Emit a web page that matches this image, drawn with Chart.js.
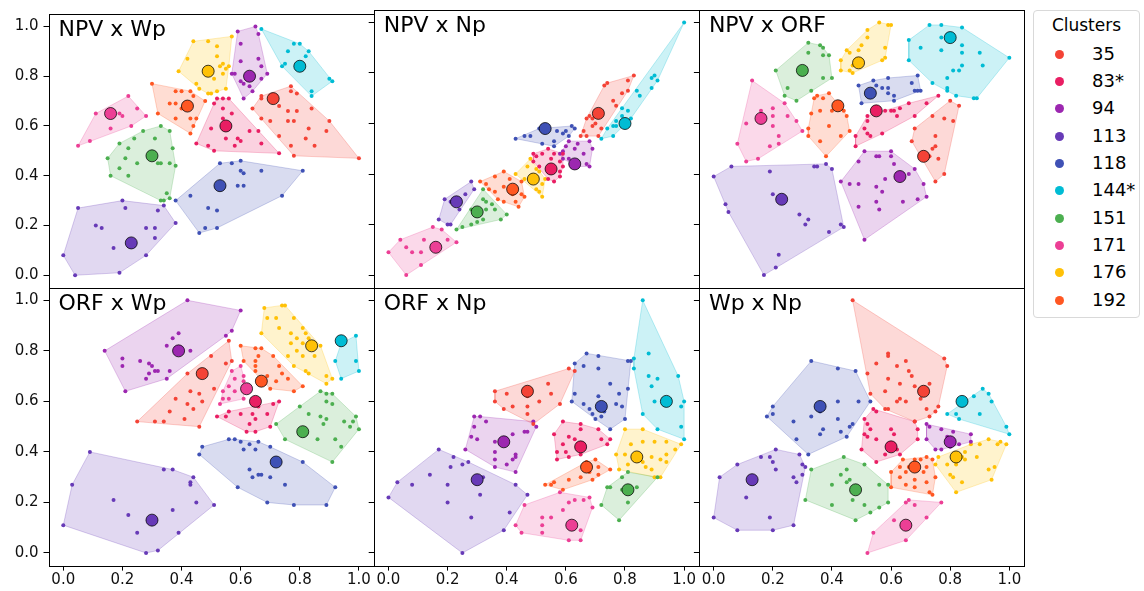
<!DOCTYPE html>
<html>
<head>
<meta charset="utf-8">
<script src="https://cdn.jsdelivr.net/npm/chart.js@4.4.1/dist/chart.umd.min.js"></script>
<style>
  body { margin: 0; background: #fff; width: 1144px; height: 591px; overflow: hidden; font-family: 'DejaVu Sans', sans-serif; }
  canvas { position: absolute; left: 0; top: 0; }
  #legend { position: absolute; left: 1033px; top: 10px; width: 107px; height: 308px; border: 1px solid #d9d9d9; border-radius: 4px; box-sizing: border-box; background: #fff; }
  #legend .ttl { position: absolute; left: 0; width: 105px; top: 4px; text-align: center; font-size: 17px; line-height: 20px; color: #000; }
  #legend .dot { position: absolute; left: 21px; width: 9px; height: 9px; border-radius: 50%; }
  #legend .lab { position: absolute; left: 58px; font-size: 18px; line-height: 21px; color: #000; }
</style>
</head>
<body>
<div id="legend"></div>
<script>
const clusters = ['35', '83*', '94', '113', '118', '144*', '151', '171', '176', '192'];
const colors = ['#f44336', '#e91e63', '#9c27b0', '#673ab7', '#3f51b5', '#00bcd4', '#4caf50', '#ec3f95', '#ffc107', '#ff5722'];

// cluster centres for each variable (the big markers)
const npvMean = [0.71, 0.55, 0.63, 0.23, 0.53, 0.80, 0.30, 0.16, 0.49, 0.42];
const wpMean  = [0.71, 0.60, 0.80, 0.13, 0.36, 0.84, 0.48, 0.65, 0.82, 0.68];
const npMean  = [0.64, 0.42, 0.44, 0.29, 0.58, 0.60, 0.25, 0.11, 0.38, 0.34];
const orfMean = [0.47, 0.65, 0.39, 0.30, 0.72, 0.94, 0.81, 0.62, 0.84, 0.67];

const tickValues = [0, 0.2, 0.4, 0.6, 0.8, 1.0];

// samples of each cluster as x,y pairs, same order as clusters
const npvWp = [
  [0.67,0.71, 0.67,0.72, 0.70,0.71, 0.77,0.76, 0.77,0.74, 0.79,0.73, 0.73,0.68, 0.76,0.66, 0.79,0.66, 0.84,0.67, 0.90,0.62, 0.78,0.62, 0.83,0.59, 0.89,0.58, 0.67,0.63, 0.70,0.62, 0.76,0.62, 0.73,0.56, 0.82,0.55, 0.85,0.52, 0.77,0.52, 0.78,0.48, 1.00,0.47, 0.64,0.67],
  [0.52,0.71, 0.54,0.71, 0.56,0.71, 0.51,0.69, 0.54,0.67, 0.57,0.65, 0.54,0.63, 0.50,0.59, 0.45,0.53, 0.55,0.55, 0.60,0.54, 0.58,0.52, 0.63,0.58, 0.66,0.58, 0.67,0.53, 0.73,0.49, 0.51,0.50, 0.49,0.52, 0.59,0.55],
  [0.59,0.98, 0.65,1.00, 0.66,0.97, 0.60,0.93, 0.60,0.86, 0.66,0.87, 0.58,0.81, 0.57,0.81, 0.60,0.78, 0.61,0.77, 0.63,0.76, 0.64,0.74, 0.61,0.71, 0.67,0.79, 0.69,0.81, 0.67,0.84, 0.64,0.80],
  [0.05,0.27, 0.20,0.30, 0.21,0.27, 0.34,0.28, 0.32,0.26, 0.38,0.21, 0.11,0.20, 0.13,0.19, 0.28,0.19, 0.31,0.19, 0.31,0.15, 0.17,0.11, 0.28,0.08, 0.19,0.01, 0.04,0.00, 0.00,0.08],
  [0.53,0.45, 0.57,0.45, 0.60,0.46, 0.60,0.42, 0.61,0.41, 0.67,0.42, 0.81,0.42, 0.59,0.36, 0.61,0.36, 0.74,0.32, 0.43,0.32, 0.38,0.30, 0.49,0.27, 0.52,0.26, 0.52,0.19, 0.48,0.19, 0.46,0.17],
  [0.67,0.99, 0.78,0.93, 0.80,0.93, 0.76,0.90, 0.83,0.90, 0.82,0.88, 0.75,0.85, 0.74,0.84, 0.90,0.79, 0.91,0.78, 0.84,0.74, 0.84,0.72],
  [0.27,0.58, 0.33,0.60, 0.36,0.58, 0.31,0.55, 0.24,0.55, 0.19,0.53, 0.22,0.51, 0.37,0.51, 0.15,0.47, 0.21,0.47, 0.25,0.45, 0.32,0.45, 0.33,0.45, 0.36,0.45, 0.38,0.44, 0.19,0.43, 0.16,0.40, 0.22,0.40, 0.35,0.33, 0.36,0.31, 0.34,0.30, 0.33,0.30],
  [0.22,0.72, 0.25,0.67, 0.28,0.64, 0.19,0.65, 0.20,0.64, 0.23,0.60, 0.16,0.59, 0.09,0.54, 0.05,0.52, 0.11,0.65],
  [0.44,0.94, 0.49,0.94, 0.57,0.96, 0.52,0.92, 0.52,0.88, 0.54,0.85, 0.53,0.84, 0.55,0.83, 0.54,0.81, 0.56,0.84, 0.55,0.75, 0.52,0.74, 0.49,0.73, 0.50,0.73, 0.46,0.75, 0.45,0.77, 0.39,0.82, 0.42,0.87, 0.51,0.79],
  [0.30,0.77, 0.38,0.74, 0.40,0.74, 0.43,0.74, 0.44,0.72, 0.48,0.70, 0.36,0.69, 0.38,0.69, 0.41,0.69, 0.32,0.65, 0.38,0.63, 0.43,0.63, 0.45,0.63, 0.44,0.60, 0.43,0.57, 0.40,0.67]
];

const npvNp = [
  [0.83,0.79, 0.81,0.77, 0.73,0.75, 0.74,0.76, 0.81,0.73, 0.79,0.72, 0.76,0.69, 0.77,0.67, 0.68,0.63, 0.67,0.62, 0.70,0.60, 0.69,0.59, 0.72,0.58, 0.66,0.57, 0.71,0.55, 0.67,0.55, 0.65,0.55, 0.69,0.62],
  [0.49,0.48, 0.50,0.47, 0.52,0.48, 0.54,0.50, 0.56,0.48, 0.59,0.48, 0.55,0.46, 0.58,0.45, 0.59,0.43, 0.58,0.41, 0.58,0.39, 0.56,0.37, 0.54,0.38, 0.51,0.43, 0.49,0.45],
  [0.61,0.53, 0.64,0.52, 0.68,0.53, 0.69,0.50, 0.63,0.50, 0.60,0.51, 0.59,0.49, 0.58,0.48, 0.66,0.48, 0.61,0.46, 0.67,0.44, 0.68,0.43, 0.64,0.43, 0.59,0.46],
  [0.28,0.37, 0.29,0.34, 0.26,0.32, 0.24,0.30, 0.21,0.29, 0.23,0.28, 0.19,0.30, 0.24,0.26, 0.17,0.22, 0.20,0.20, 0.21,0.20],
  [0.43,0.54, 0.46,0.55, 0.48,0.55, 0.51,0.58, 0.59,0.56, 0.60,0.57, 0.62,0.59, 0.63,0.58, 0.61,0.55, 0.56,0.53, 0.56,0.51, 0.52,0.52, 0.57,0.57],
  [1.00,1.00, 0.90,0.79, 0.89,0.78, 0.91,0.77, 0.89,0.74, 0.84,0.73, 0.85,0.71, 0.79,0.66, 0.81,0.65, 0.79,0.63, 0.77,0.61, 0.76,0.59, 0.74,0.58, 0.77,0.59, 0.76,0.55, 0.72,0.54, 0.82,0.62],
  [0.32,0.34, 0.32,0.30, 0.33,0.29, 0.35,0.28, 0.36,0.26, 0.33,0.26, 0.30,0.25, 0.28,0.26, 0.40,0.24, 0.38,0.22, 0.32,0.22, 0.30,0.21, 0.28,0.20, 0.25,0.19, 0.23,0.18, 0.30,0.24],
  [0.15,0.19, 0.18,0.18, 0.20,0.14, 0.23,0.13, 0.12,0.14, 0.04,0.14, 0.06,0.11, 0.08,0.09, 0.11,0.09, 0.00,0.09, 0.16,0.12, 0.17,0.12, 0.11,0.04, 0.06,0.00],
  [0.48,0.46, 0.47,0.43, 0.43,0.40, 0.50,0.42, 0.51,0.41, 0.53,0.38, 0.52,0.36, 0.50,0.34, 0.51,0.33, 0.52,0.31, 0.46,0.38],
  [0.31,0.37, 0.36,0.39, 0.39,0.41, 0.41,0.38, 0.45,0.37, 0.45,0.32, 0.46,0.31, 0.43,0.29, 0.44,0.27, 0.39,0.29, 0.37,0.30, 0.36,0.33, 0.34,0.34, 0.39,0.35, 0.42,0.32, 0.33,0.36]
];

const npvOrf = [
  [0.80,0.69, 0.83,0.67, 0.74,0.63, 0.78,0.62, 0.81,0.61, 0.68,0.58, 0.75,0.55, 0.67,0.53, 0.75,0.51, 0.74,0.50, 0.73,0.47, 0.76,0.46, 0.78,0.40, 0.75,0.37],
  [0.76,0.71, 0.72,0.68, 0.66,0.68, 0.63,0.66, 0.60,0.65, 0.61,0.65, 0.62,0.63, 0.58,0.65, 0.52,0.63, 0.52,0.61, 0.68,0.63, 0.51,0.58, 0.52,0.56, 0.53,0.55, 0.48,0.55, 0.57,0.56, 0.48,0.51],
  [0.51,0.49, 0.55,0.47, 0.56,0.47, 0.60,0.49, 0.60,0.47, 0.49,0.45, 0.61,0.44, 0.68,0.42, 0.66,0.40, 0.63,0.38, 0.58,0.38, 0.55,0.35, 0.57,0.33, 0.43,0.37, 0.46,0.36, 0.49,0.36, 0.71,0.36, 0.72,0.31, 0.69,0.30, 0.64,0.29, 0.55,0.29, 0.56,0.26, 0.49,0.27, 0.51,0.14],
  [0.06,0.43, 0.34,0.43, 0.38,0.44, 0.35,0.43, 0.40,0.42, 0.19,0.41, 0.00,0.39, 0.20,0.32, 0.04,0.28, 0.05,0.25, 0.29,0.24, 0.32,0.22, 0.31,0.20, 0.43,0.20, 0.44,0.19, 0.39,0.17, 0.22,0.08, 0.21,0.03, 0.17,0.00],
  [0.49,0.75, 0.54,0.77, 0.59,0.78, 0.69,0.79, 0.55,0.75, 0.57,0.74, 0.59,0.74, 0.59,0.72, 0.67,0.76, 0.68,0.73, 0.70,0.73, 0.69,0.73, 0.61,0.71, 0.61,0.69, 0.50,0.68, 0.52,0.72],
  [0.73,0.99, 0.77,0.99, 0.84,0.98, 0.66,0.93, 0.70,0.90, 0.77,0.89, 0.77,0.94, 0.84,0.91, 0.84,0.88, 0.90,0.88, 1.00,0.86, 0.66,0.85, 0.91,0.83, 0.84,0.83, 0.83,0.81, 0.81,0.81, 0.79,0.78, 0.74,0.76, 0.79,0.74, 0.79,0.73, 0.82,0.71, 0.89,0.70, 0.88,0.70],
  [0.32,0.92, 0.36,0.91, 0.37,0.90, 0.32,0.88, 0.39,0.87, 0.37,0.87, 0.21,0.81, 0.37,0.78, 0.40,0.78, 0.25,0.74, 0.33,0.73, 0.24,0.71, 0.28,0.69],
  [0.13,0.77, 0.24,0.68, 0.20,0.66, 0.16,0.65, 0.20,0.63, 0.25,0.63, 0.28,0.61, 0.11,0.60, 0.20,0.59, 0.30,0.57, 0.22,0.55, 0.08,0.52, 0.19,0.51, 0.22,0.52, 0.15,0.46, 0.11,0.45],
  [0.56,1.00, 0.59,0.99, 0.60,0.99, 0.52,0.97, 0.52,0.94, 0.50,0.91, 0.49,0.89, 0.45,0.89, 0.46,0.88, 0.58,0.90, 0.58,0.86, 0.57,0.85, 0.43,0.85, 0.47,0.83, 0.46,0.81, 0.43,0.81, 0.47,0.80],
  [0.35,0.71, 0.39,0.72, 0.37,0.70, 0.34,0.70, 0.36,0.65, 0.33,0.64, 0.40,0.65, 0.44,0.65, 0.45,0.63, 0.39,0.59, 0.32,0.58, 0.46,0.57, 0.43,0.55, 0.36,0.53, 0.32,0.55, 0.38,0.47]
];

const orfWp = [
  [0.56,0.84, 0.50,0.78, 0.55,0.75, 0.57,0.76, 0.42,0.71, 0.48,0.71, 0.51,0.65, 0.43,0.64, 0.46,0.63, 0.38,0.61, 0.47,0.60, 0.42,0.59, 0.44,0.57, 0.36,0.56, 0.25,0.52, 0.31,0.52, 0.34,0.52, 0.41,0.53, 0.46,0.50],
  [0.73,0.60, 0.71,0.59, 0.69,0.55, 0.66,0.58, 0.56,0.56, 0.52,0.54, 0.55,0.54, 0.60,0.55, 0.63,0.51, 0.64,0.55, 0.65,0.53, 0.70,0.50, 0.65,0.48, 0.62,0.48],
  [0.42,1.00, 0.60,0.96, 0.57,0.88, 0.55,0.86, 0.39,0.87, 0.37,0.85, 0.35,0.82, 0.40,0.80, 0.43,0.80, 0.14,0.80, 0.26,0.76, 0.20,0.77, 0.29,0.75, 0.30,0.74, 0.20,0.74, 0.32,0.72, 0.31,0.72, 0.29,0.71, 0.28,0.69, 0.36,0.72, 0.35,0.69, 0.21,0.64],
  [0.09,0.40, 0.34,0.33, 0.37,0.33, 0.44,0.30, 0.43,0.28, 0.43,0.27, 0.03,0.27, 0.17,0.21, 0.45,0.20, 0.51,0.19, 0.22,0.15, 0.37,0.17, 0.00,0.11, 0.25,0.08, 0.39,0.08, 0.32,0.01, 0.28,0.00],
  [0.56,0.45, 0.58,0.45, 0.60,0.44, 0.63,0.43, 0.66,0.44, 0.61,0.41, 0.65,0.41, 0.70,0.42, 0.47,0.42, 0.46,0.39, 0.81,0.36, 0.63,0.33, 0.66,0.31, 0.64,0.30, 0.67,0.31, 0.70,0.30, 0.75,0.27, 0.59,0.26, 0.92,0.26, 0.69,0.20, 0.78,0.19, 0.89,0.19],
  [0.99,0.86, 0.94,0.83, 0.92,0.76, 0.99,0.76, 1.00,0.72, 0.94,0.69],
  [0.87,0.64, 0.89,0.63, 0.91,0.63, 0.89,0.60, 0.91,0.59, 0.80,0.58, 0.83,0.55, 0.87,0.54, 0.89,0.53, 0.99,0.54, 0.95,0.52, 0.98,0.52, 0.97,0.50, 1.00,0.49, 0.72,0.51, 0.75,0.45, 0.82,0.47, 0.86,0.45, 0.92,0.45, 0.94,0.42, 0.91,0.36, 0.88,0.51],
  [0.60,0.74, 0.57,0.72, 0.61,0.70, 0.58,0.69, 0.56,0.66, 0.61,0.68, 0.54,0.64, 0.58,0.64, 0.54,0.61, 0.61,0.61, 0.56,0.61, 0.53,0.59],
  [0.68,0.97, 0.74,0.98, 0.75,0.98, 0.69,0.93, 0.72,0.93, 0.73,0.89, 0.78,0.93, 0.77,0.87, 0.81,0.89, 0.82,0.87, 0.83,0.85, 0.79,0.85, 0.77,0.83, 0.81,0.83, 0.83,0.82, 0.87,0.82, 0.79,0.80, 0.81,0.78, 0.85,0.78, 0.76,0.78, 0.78,0.74, 0.82,0.72, 0.83,0.71, 0.89,0.70, 0.91,0.69, 0.89,0.67, 0.67,0.87],
  [0.60,0.82, 0.65,0.81, 0.67,0.81, 0.66,0.78, 0.65,0.76, 0.61,0.76, 0.71,0.78, 0.65,0.74, 0.65,0.72, 0.73,0.74, 0.74,0.71, 0.69,0.70, 0.76,0.69, 0.72,0.68, 0.81,0.66, 0.78,0.64, 0.70,0.65]
];

const orfNp = [
  [0.61,0.73, 0.63,0.72, 0.54,0.67, 0.40,0.63, 0.36,0.60, 0.47,0.62, 0.51,0.60, 0.55,0.63, 0.58,0.59, 0.39,0.57, 0.42,0.58, 0.47,0.58, 0.47,0.55, 0.49,0.51, 0.36,0.64],
  [0.59,0.52, 0.65,0.51, 0.65,0.49, 0.71,0.49, 0.56,0.47, 0.61,0.46, 0.63,0.45, 0.72,0.45, 0.75,0.45, 0.74,0.43, 0.59,0.43, 0.57,0.40, 0.60,0.40, 0.65,0.39, 0.61,0.38, 0.57,0.37, 0.66,0.42],
  [0.29,0.54, 0.31,0.54, 0.33,0.52, 0.49,0.52, 0.50,0.50, 0.46,0.48, 0.47,0.48, 0.42,0.47, 0.29,0.50, 0.30,0.45, 0.28,0.46, 0.36,0.44, 0.26,0.41, 0.36,0.40, 0.43,0.39, 0.43,0.38, 0.42,0.37, 0.36,0.37, 0.40,0.35, 0.36,0.34, 0.43,0.32],
  [0.17,0.41, 0.22,0.38, 0.21,0.34, 0.25,0.35, 0.27,0.36, 0.14,0.31, 0.20,0.27, 0.32,0.30, 0.03,0.28, 0.08,0.27, 0.43,0.27, 0.47,0.23, 0.31,0.23, 0.00,0.22, 0.20,0.20, 0.28,0.14, 0.41,0.16, 0.39,0.09, 0.25,0.00],
  [0.67,0.79, 0.71,0.78, 0.81,0.76, 0.82,0.76, 0.63,0.75, 0.66,0.74, 0.71,0.73, 0.75,0.67, 0.81,0.65, 0.63,0.63, 0.71,0.62, 0.78,0.63, 0.62,0.60, 0.66,0.59, 0.68,0.57, 0.73,0.57, 0.73,0.56, 0.77,0.59, 0.79,0.58, 0.69,0.55, 0.72,0.54, 0.70,0.53, 0.80,0.53, 0.75,0.49],
  [0.86,1.00, 0.83,0.77, 0.83,0.73, 0.88,0.79, 0.88,0.70, 0.98,0.70, 0.91,0.69, 0.89,0.66, 0.90,0.60, 1.00,0.60, 0.99,0.58, 0.86,0.55, 0.91,0.49, 0.99,0.50, 1.00,0.45],
  [0.81,0.32, 0.91,0.30, 0.79,0.30, 0.74,0.26, 0.75,0.26, 0.79,0.25, 0.81,0.20, 0.72,0.19, 0.78,0.13, 0.84,0.26],
  [0.58,0.24, 0.61,0.20, 0.63,0.21, 0.66,0.21, 0.68,0.22, 0.69,0.18, 0.59,0.17, 0.46,0.19, 0.55,0.14, 0.52,0.14, 0.52,0.11, 0.43,0.11, 0.45,0.08, 0.52,0.08, 0.65,0.09, 0.65,0.05, 0.61,0.05],
  [0.80,0.49, 0.86,0.49, 0.82,0.43, 0.86,0.44, 0.90,0.44, 0.94,0.44, 0.97,0.41, 0.99,0.43, 0.77,0.39, 0.80,0.39, 0.84,0.38, 0.89,0.38, 0.86,0.36, 0.92,0.37, 0.94,0.39, 0.78,0.33, 0.81,0.35, 0.87,0.34, 0.89,0.33, 0.90,0.30, 0.92,0.30, 0.94,0.36],
  [0.70,0.37, 0.67,0.36, 0.71,0.34, 0.75,0.33, 0.66,0.34, 0.68,0.32, 0.65,0.30, 0.71,0.31, 0.69,0.29, 0.61,0.29, 0.59,0.25, 0.55,0.27, 0.53,0.27, 0.56,0.28]
];

const wpNp = [
  [0.47,1.00, 0.59,0.79, 0.59,0.78, 0.55,0.75, 0.62,0.74, 0.65,0.76, 0.78,0.77, 0.79,0.74, 0.52,0.71, 0.66,0.72, 0.67,0.70, 0.59,0.69, 0.63,0.67, 0.68,0.66, 0.73,0.67, 0.58,0.64, 0.53,0.63, 0.70,0.61, 0.76,0.58, 0.62,0.60, 0.63,0.61, 0.65,0.60, 0.58,0.57, 0.59,0.57, 0.72,0.57, 0.75,0.56, 0.73,0.54, 0.68,0.52],
  [0.54,0.57, 0.55,0.56, 0.68,0.52, 0.51,0.53, 0.52,0.51, 0.53,0.49, 0.60,0.49, 0.69,0.49, 0.51,0.47, 0.52,0.46, 0.55,0.45, 0.61,0.47, 0.69,0.45, 0.62,0.41, 0.63,0.39, 0.50,0.41, 0.55,0.36, 0.58,0.39],
  [0.72,0.51, 0.73,0.50, 0.77,0.49, 0.81,0.48, 0.87,0.47, 0.87,0.44, 0.79,0.46, 0.81,0.44, 0.83,0.43, 0.72,0.45, 0.75,0.41, 0.77,0.41, 0.80,0.42],
  [0.21,0.41, 0.16,0.38, 0.19,0.38, 0.20,0.36, 0.29,0.39, 0.08,0.35, 0.30,0.35, 0.31,0.34, 0.21,0.33, 0.02,0.30, 0.30,0.31, 0.27,0.30, 0.28,0.28, 0.11,0.22, 0.00,0.14, 0.19,0.14, 0.27,0.11, 0.08,0.09, 0.20,0.09],
  [0.33,0.76, 0.42,0.73, 0.48,0.72, 0.53,0.60, 0.49,0.60, 0.42,0.60, 0.33,0.54, 0.36,0.56, 0.37,0.57, 0.20,0.58, 0.20,0.55, 0.18,0.54, 0.42,0.53, 0.27,0.52, 0.47,0.51, 0.46,0.50, 0.43,0.48, 0.37,0.49, 0.36,0.47, 0.45,0.46, 0.28,0.45, 0.32,0.39],
  [0.91,0.65, 0.93,0.63, 0.88,0.62, 0.94,0.60, 0.79,0.55, 0.82,0.55, 0.90,0.55, 0.83,0.53, 0.99,0.50, 1.00,0.47],
  [0.44,0.38, 0.51,0.35, 0.33,0.33, 0.45,0.33, 0.43,0.31, 0.46,0.29, 0.45,0.28, 0.40,0.27, 0.56,0.27, 0.59,0.27, 0.47,0.25, 0.49,0.25, 0.31,0.21, 0.40,0.19, 0.47,0.21, 0.51,0.19, 0.59,0.20, 0.56,0.18, 0.53,0.16, 0.48,0.13],
  [0.66,0.21, 0.65,0.20, 0.68,0.19, 0.77,0.20, 0.72,0.14, 0.61,0.13, 0.66,0.11, 0.54,0.08, 0.65,0.05, 0.52,0.00],
  [0.93,0.45, 0.97,0.44, 0.99,0.43, 0.96,0.43, 0.90,0.43, 0.87,0.43, 0.85,0.40, 0.84,0.38, 0.76,0.38, 0.75,0.35, 0.89,0.38, 0.85,0.37, 0.79,0.35, 0.82,0.35, 0.95,0.34, 0.93,0.33, 0.80,0.31, 0.81,0.30, 0.84,0.28, 0.94,0.29, 0.82,0.24],
  [0.72,0.38, 0.74,0.37, 0.64,0.37, 0.68,0.37, 0.70,0.37, 0.63,0.34, 0.66,0.34, 0.72,0.34, 0.60,0.32, 0.65,0.32, 0.71,0.32, 0.75,0.30, 0.63,0.30, 0.68,0.29, 0.72,0.28, 0.60,0.26, 0.65,0.27, 0.68,0.26, 0.73,0.24, 0.74,0.23]
];

const panels = [
  { title: 'NPV x Wp',  pts: npvWp,  cx: npvMean, cy: wpMean },
  { title: 'NPV x Np',  pts: npvNp,  cx: npvMean, cy: npMean },
  { title: 'NPV x ORF', pts: npvOrf, cx: npvMean, cy: orfMean },
  { title: 'ORF x Wp',  pts: orfWp,  cx: orfMean, cy: wpMean },
  { title: 'ORF x Np',  pts: orfNp,  cx: orfMean, cy: npMean },
  { title: 'Wp x Np',   pts: wpNp,   cx: wpMean,  cy: npMean }
];

// grid of axes, pixels
const gridLeft = 48.5, gridTop = 9.8, panelW = 325.2, panelH = 277.9;
const axisW = 40, axisH = 30;

Chart.defaults.font.family = "'DejaVu Sans', sans-serif";
Chart.defaults.color = '#000';

function pairs(flat) {
  const out = [];
  for (let i = 0; i < flat.length; i += 2) out.push({ x: flat[i], y: flat[i + 1] });
  return out;
}

// convex hull (monotone chain), closed
function hull(pts) {
  const p = pts.slice().sort((a, b) => a.x - b.x || a.y - b.y);
  const cross = (o, a, b) => (a.x - o.x) * (b.y - o.y) - (a.y - o.y) * (b.x - o.x);
  const lower = [], upper = [];
  for (const q of p) {
    while (lower.length >= 2 && cross(lower[lower.length - 2], lower[lower.length - 1], q) <= 0) lower.pop();
    lower.push(q);
  }
  for (let i = p.length - 1; i >= 0; i--) {
    const q = p[i];
    while (upper.length >= 2 && cross(upper[upper.length - 2], upper[upper.length - 1], q) <= 0) upper.pop();
    upper.push(q);
  }
  lower.pop(); upper.pop();
  const h = lower.concat(upper);
  h.push(h[0]);
  return h;
}

function rgba(hex, a) {
  const n = parseInt(hex.slice(1), 16);
  return 'rgba(' + (n >> 16) + ',' + ((n >> 8) & 255) + ',' + (n & 255) + ',' + a + ')';
}

const frame = {
  id: 'frame',
  afterDatasetsDraw(chart, args, opts) {
    const { ctx, chartArea: a } = chart;
    ctx.save();
    ctx.strokeStyle = '#000';
    ctx.lineWidth = 1;
    ctx.strokeRect(Math.round(a.left) + 0.5, Math.round(a.top) + 0.5, Math.round(a.right - a.left), Math.round(a.bottom - a.top));
    ctx.font = "22px 'DejaVu Sans'";
    ctx.fillStyle = '#000';
    ctx.textBaseline = 'alphabetic';
    ctx.fillText(opts.text, a.left + 10, a.top + 22);
    ctx.restore();
  }
};

panels.forEach((p, i) => {
  const r = Math.floor(i / 3), c = i % 3;
  const L = gridLeft + c * panelW, T = gridTop + r * panelH;
  const R = L + panelW, B = T + panelH;
  const cv = document.createElement('canvas');
  cv.width = 1144; cv.height = 591;
  document.body.appendChild(cv);

  const datasets = [];
  clusters.forEach((name, k) => {
    const pts = pairs(p.pts[k]);
    datasets.push({ type: 'line', data: hull(pts), fill: 'shape', tension: 0,
      backgroundColor: rgba(colors[k], 0.2), borderColor: rgba(colors[k], 0.25), borderWidth: 1,
      pointRadius: 0, order: 3 });
    datasets.push({ type: 'scatter', data: pts, backgroundColor: colors[k], borderWidth: 0,
      pointRadius: 2, order: 2 });
    datasets.push({ type: 'scatter', data: [{ x: p.cx[k], y: p.cy[k] }], backgroundColor: colors[k],
      borderColor: 'rgba(0,0,0,0.75)', borderWidth: 1, pointRadius: 6, order: 1 });
  });

  const setTicks = s => { s.ticks = tickValues.map(v => ({ value: v })); };

  new Chart(cv, {
    type: 'scatter',
    data: { datasets },
    plugins: [frame],
    options: {
      responsive: false,
      animation: false,
      events: [],
      layout: {
        autoPadding: false,
        padding: { left: L - axisW, top: T, right: 1144 - R, bottom: 591 - B - axisH }
      },
      scales: {
        x: {
          type: 'linear', min: -0.05, max: 1.05, display: r === 1,
          afterBuildTicks: setTicks,
          afterFit: s => { s.height = axisH; },
          grid: { drawOnChartArea: false, tickLength: 5, color: '#000', lineWidth: 1 },
          border: { display: false },
          ticks: { font: { size: 15 }, color: '#111', padding: 1, maxRotation: 0, callback: v => v.toFixed(1) }
        },
        y: {
          type: 'linear', min: -0.05, max: 1.05,
          afterBuildTicks: setTicks,
          afterFit: s => { s.width = axisW; },
          grid: { drawOnChartArea: false, tickLength: 5, color: '#000', lineWidth: 1 },
          border: { display: false },
          ticks: { display: c === 0, font: { size: 15 }, color: '#111', padding: 5, callback: v => v.toFixed(1) }
        }
      },
      plugins: {
        legend: { display: false },
        tooltip: { enabled: false },
        frame: { text: p.title }
      }
    }
  });
});

// legend
const lg = document.getElementById('legend');
const ttl = document.createElement('div');
ttl.className = 'ttl';
ttl.textContent = 'Clusters';
lg.appendChild(ttl);
clusters.forEach((name, k) => {
  const dot = document.createElement('div');
  dot.className = 'dot';
  dot.style.top = (38.8 + k * 27.33) + 'px';
  dot.style.background = colors[k];
  lg.appendChild(dot);
  const lab = document.createElement('div');
  lab.className = 'lab';
  lab.style.top = (31.6 + k * 27.33) + 'px';
  lab.textContent = name;
  lg.appendChild(lab);
});
</script>
</body>
</html>
